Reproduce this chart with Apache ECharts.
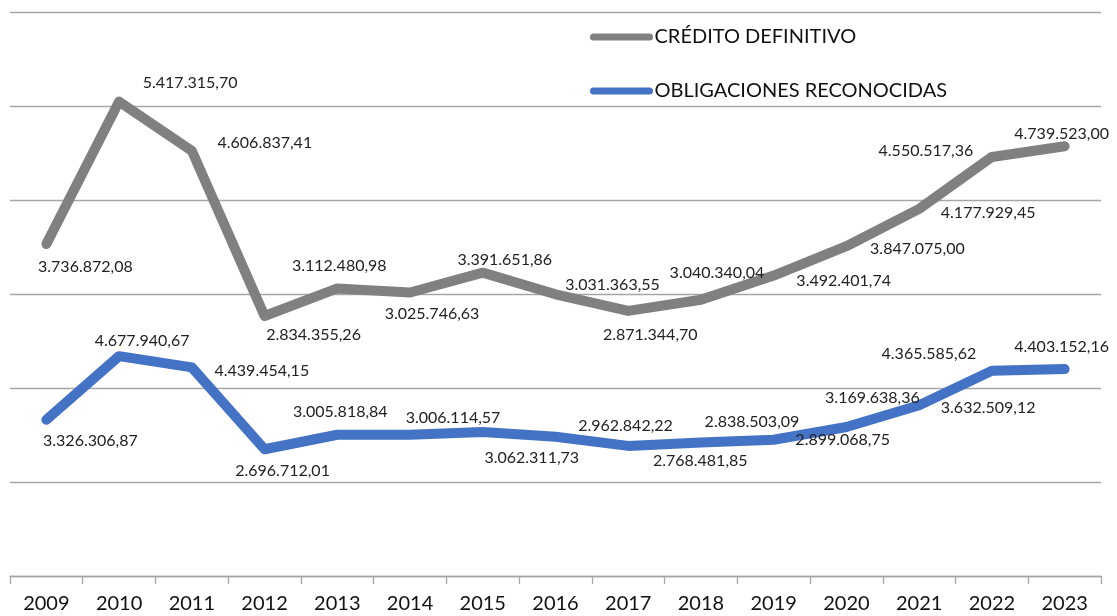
<!DOCTYPE html>
<html>
<head>
<meta charset="utf-8">
<script src="https://cdn.jsdelivr.net/npm/echarts@6/dist/echarts.min.js"></script>
<style>
html,body{margin:0;padding:0;background:#fff;}
#chart{width:1117px;height:616px;}
</style>
</head>
<body>
<div id="chart"></div>
<script>
var years = ['2009','2010','2011','2012','2013','2014','2015','2016','2017','2018','2019','2020','2021','2022','2023'];
var creditoDefinitivo = [3736872.08, 5417315.70, 4606837.41, 2834355.26, 3112480.98, 3025746.63, 3391651.86, 3031363.55, 2871344.70, 3040340.04, 3492401.74, 3847075.00, 4177929.45, 4550517.36, 4739523.00];
var obligacionesReconocidas = [3326306.87, 4677940.67, 4439454.15, 2696712.01, 3005818.84, 3006114.57, 3062311.73, 2962842.22, 2768481.85, 2838503.09, 2899068.75, 3169638.36, 3632509.12, 4365585.62, 4403152.16];

// label placement (style only): offset of label centre from the point, px
var creditoLabelOffsets = [[39,23],[71,-19],[73,-8],[49,19],[2,-23],[22,21],[22,-13],[57,-9],[22,24],[16,-27],[70,5],[71,3],[69,4],[-66,-6],[-3,-12]];
var obligLabelOffsets = [[44,21],[23,-15],[70,3],[18,22],[3,-23],[43,-17],[49,26],[70,-11],[72,15],[51,-21],[69,0],[26,-29],[69,3],[-63,-17],[-3,-22]];

function fmt(v){
  var parts = v.toFixed(2).split('.');
  var intPart = parts[0].replace(/\B(?=(\d{3})+(?!\d))/g, '.');
  return intPart + ',' + parts[1];
}
function buildData(values, offsets){
  return values.map(function(v,i){
    return {value: v, label: {offset: offsets[i]}};
  });
}

var labelStyle = {
  show: true,
  position: 'inside',
  align: 'center',
  verticalAlign: 'middle',
  fontFamily: 'Lato',
  fontSize: 16,
  color: '#222',
  formatter: function(p){ return fmt(p.value); }
};

var chart = echarts.init(document.getElementById('chart'), null, {renderer:'canvas'});
chart.setOption({
  animation: false,
  backgroundColor: '#fff',
  grid: {left: 10, right: 16, top: 12, bottom: 40, containLabel: false},
  legend: {
    orient: 'vertical',
    left: 585,
    top: 22,
    itemGap: 34,
    itemWidth: 56,
    itemHeight: 14,
    data: ['CRÉDITO DEFINITIVO', 'OBLIGACIONES RECONOCIDAS'],
    textStyle: {fontFamily: 'Lato', fontSize: 20, color: '#111', lineHeight: 20},
    lineStyle: {width: 7, cap: 'round'},
    itemStyle: {opacity: 0}
  },
  xAxis: {
    type: 'category',
    data: years,
    boundaryGap: true,
    axisLine: {show: true, lineStyle: {color: '#a6a6a6', width: 1.3}},
    axisTick: {show: true, length: 8, lineStyle: {color: '#a6a6a6', width: 1.3}},
    axisLabel: {fontFamily: 'Lato', fontSize: 20, color: '#111', margin: 18}
  },
  yAxis: {
    type: 'value',
    min: 0,
    max: 12000000,
    interval: 2000000,
    axisLabel: {show: false},
    axisLine: {show: false},
    axisTick: {show: false},
    splitLine: {show: true, lineStyle: {color: '#a6a6a6', width: 1.3}}
  },
  series: [
    {
      name: 'OBLIGACIONES RECONOCIDAS',
      type: 'line',
      stack: 'total',
      data: buildData(obligacionesReconocidas, obligLabelOffsets),
      showSymbol: true,
      symbol: 'circle',
      symbolSize: 2,
      itemStyle: {color: '#4472C4'},
      lineStyle: {color: '#4472C4', width: 10, cap: 'round', join: 'round'},
      label: labelStyle,
      emphasis: {disabled: true},
      z: 2
    },
    {
      name: 'CRÉDITO DEFINITIVO',
      type: 'line',
      stack: 'total',
      data: buildData(creditoDefinitivo, creditoLabelOffsets),
      showSymbol: true,
      symbol: 'circle',
      symbolSize: 2,
      itemStyle: {color: '#808080'},
      lineStyle: {color: '#808080', width: 10, cap: 'round', join: 'round'},
      label: labelStyle,
      emphasis: {disabled: true},
      z: 2
    }
  ]
});
</script>
</body>
</html>
